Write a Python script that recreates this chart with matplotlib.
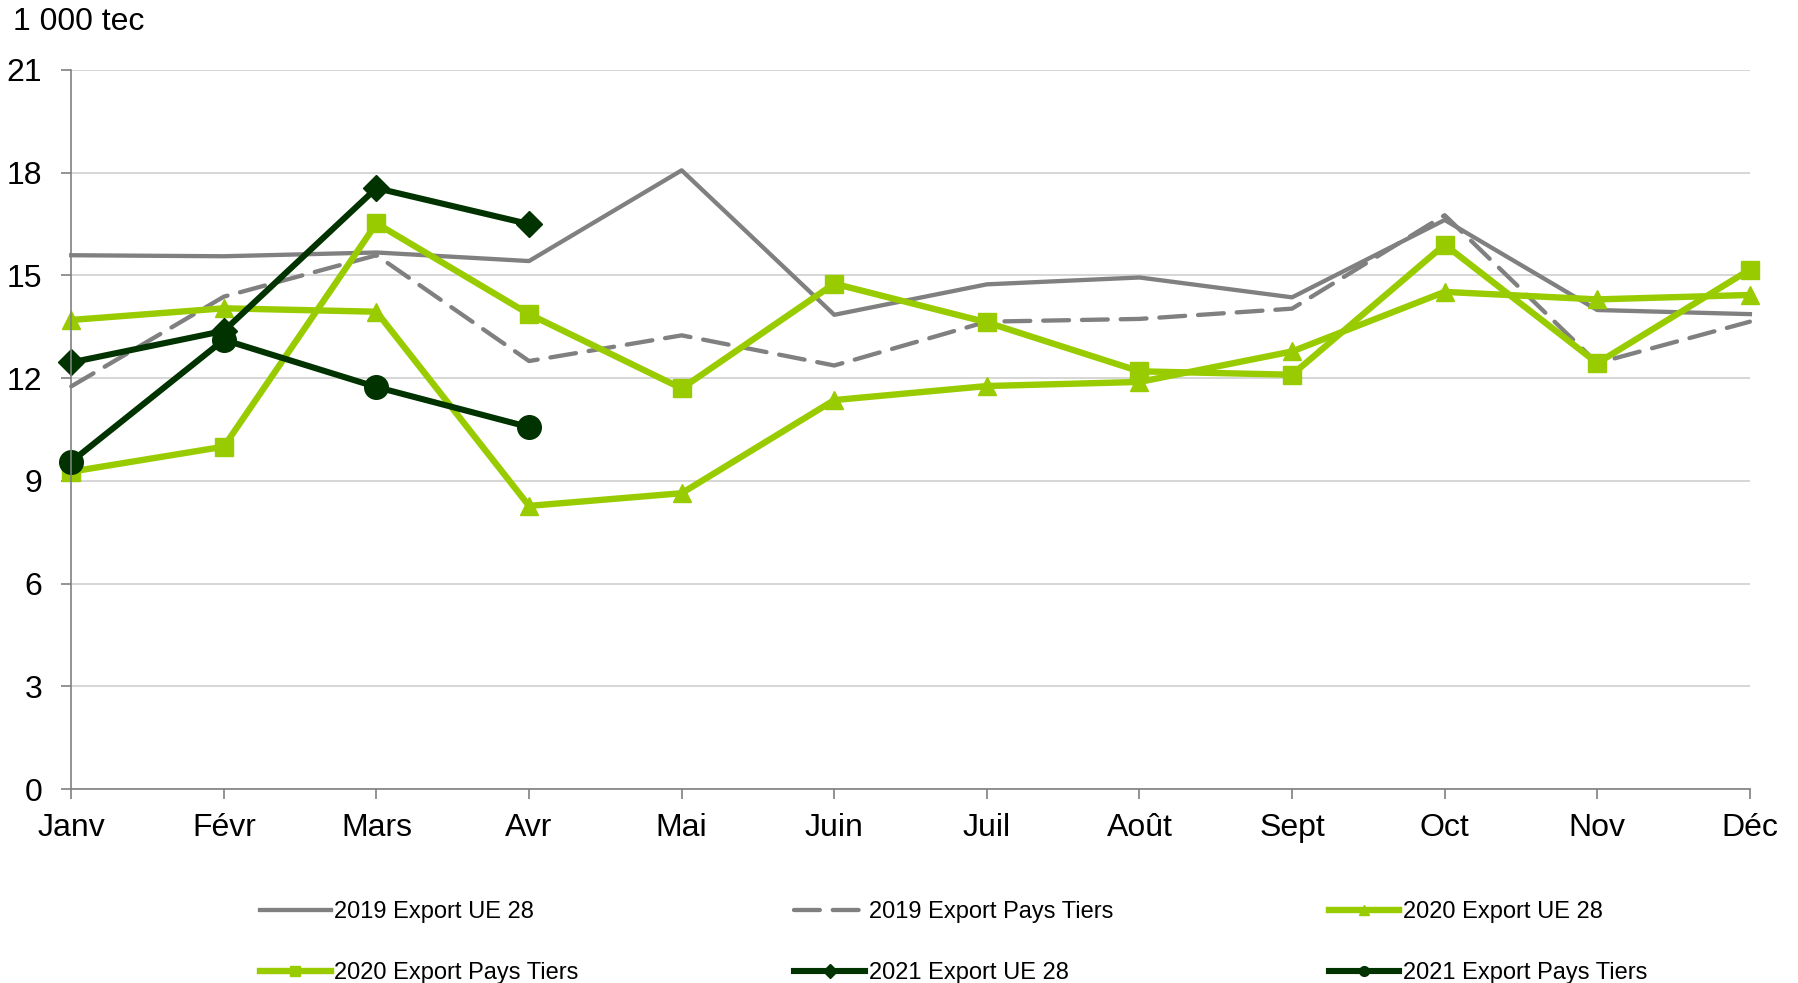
import matplotlib.pyplot as plt
from matplotlib.lines import Line2D

plt.rcParams['font.family'] = ['Liberation Sans', 'DejaVu Sans']

mois = ["Janv", "Févr", "Mars", "Avr", "Mai", "Juin", "Juil", "Août", "Sept", "Oct", "Nov", "Déc"]

# valeurs en 1 000 tec
ue_2019 = [15.59, 15.56, 15.67, 15.42, 18.07, 13.85, 14.74, 14.94, 14.36, 16.62, 13.99, 13.87]
pt_2019 = [11.76, 14.38, 15.59, 12.5, 13.25, 12.37, 13.65, 13.73, 14.03, 16.76, 12.44, 13.65]
ue_2020 = [13.7, 14.04, 13.94, 8.27, 8.64, 11.36, 11.77, 11.89, 12.78, 14.52, 14.3, 14.43]
pt_2020 = [9.27, 10.0, 16.52, 13.87, 11.7, 14.76, 13.63, 12.2, 12.1, 15.9, 12.44, 15.17]
ue_2021 = [12.46, 13.38, 17.55, 16.5]
pt_2021 = [9.56, 13.12, 11.74, 10.57]

gris = "#808080"
vert = "#99CC00"
vert_fonce = "#003300"

fig = plt.figure(figsize=(17.99, 9.83), dpi=100)
ax = fig.add_axes([0.0396, 0.1973, 0.9331, 0.7315])

x = list(range(len(mois)))
series = [
    (ue_2019, "2019 Export UE 28", dict(color=gris, lw=3.1)),
    (pt_2019, "2019 Export Pays Tiers", dict(color=gris, lw=3.1, dashes=(6, 3), dash_capstyle="round")),
    (ue_2020, "2020 Export UE 28", dict(color=vert, lw=4.6, marker="^", ms=13)),
    (pt_2020, "2020 Export Pays Tiers", dict(color=vert, lw=4.6, marker="s", ms=13)),
    (ue_2021, "2021 Export UE 28", dict(color=vert_fonce, lw=4.4, marker="D", ms=13)),
    (pt_2021, "2021 Export Pays Tiers", dict(color=vert_fonce, lw=4.4, marker="o", ms=17)),
]

handles = []
for vals, nom, style in series:
    ax.plot(x[:len(vals)], vals, label=nom, clip_on=False, **style)
    hs = dict(style)
    if "ms" in hs:
        hs["ms"] = 7
    handles.append(Line2D([], [], **hs))

ax.set_xlim(0, 11)
ax.set_ylim(0, 21)
ax.set_yticks(range(0, 22, 3))
ax.set_xticks(x)
ax.set_xticklabels(mois)
ax.tick_params(axis="both", labelsize=23, color=gris, length=7, width=1.2)
ax.tick_params(axis="y", pad=14)
ax.tick_params(axis="x", pad=10)
ax.grid(axis="y", color="#D0D0D0", lw=1.2)
ax.set_axisbelow(True)
for s in ["top", "right"]:
    ax.spines[s].set_visible(False)
for s in ["left", "bottom"]:
    ax.spines[s].set_color(gris)
    ax.spines[s].set_linewidth(1.2)

fig.text(0.007, 0.993, "1 000 tec", fontsize=23, va="top", ha="left")

# légende: trois colonnes de deux lignes
colonnes = [(0, 3), (1, 4), (2, 5)]
xs = [0.1445, 0.4415, 0.7385]
for (i, j), x0 in zip(colonnes, xs):
    fig.legend([handles[i], handles[j]], [series[i][1], series[j][1]],
               loc="upper left", bbox_to_anchor=(x0, 0.083), frameon=False,
               fontsize=17, handlelength=3.0, handletextpad=0.15,
               labelspacing=1.65, borderaxespad=0, borderpad=0)

fig.savefig("out.png", dpi=100)
